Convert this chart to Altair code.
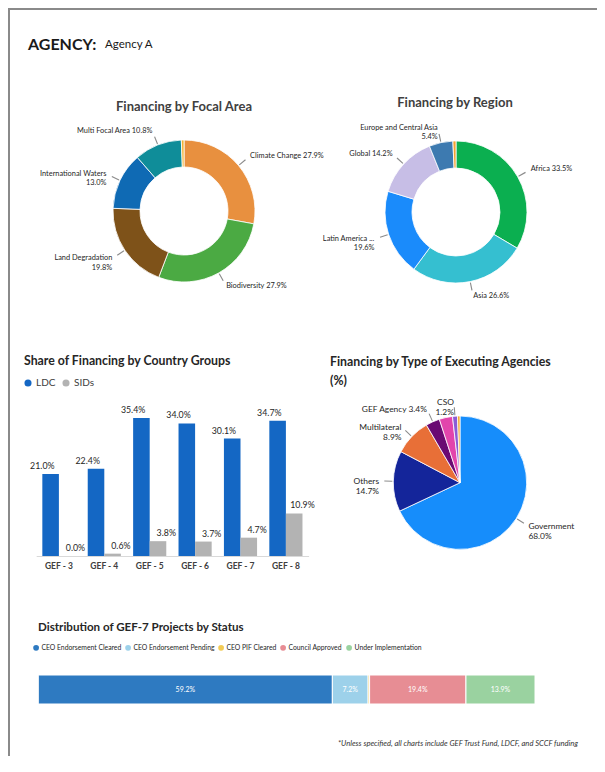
import math
import altair as alt
import pandas as pd

FONT = "Lato"
M = 8            # page margin
W, H = 589, 748  # whole drawing area
TXT = "#404040"
LAB = "#262626"


def P(v):
    """page pixel -> chart pixel"""
    return v - M


# ---------------- data ----------------
focal_names = ["Climate Change", "Biodiversity", "Land Degradation",
               "International Waters", "Multi Focal Area", "Chemicals and Waste"]
focal_values = [27.9, 27.9, 19.8, 13.0, 10.8, 0.6]
focal_colors = ["#E8903F", "#4BAA43", "#7E5219", "#0F6AB4", "#0F8D99", "#F2B233"]

region_names = ["Africa", "Asia", "Latin America and Caribbean", "Global",
                "Europe and Central Asia", "Other"]
region_values = [33.5, 26.6, 19.6, 14.2, 5.4, 0.7]
region_colors = ["#0BAF50", "#35BFD0", "#1A8BFB", "#C7BEE6", "#3D7AB0", "#F4A233"]

exec_names = ["Government", "Others", "Multilateral", "GEF Agency",
              "Private Sector", "CSO", "Foundation"]
exec_values = [68.0, 14.7, 8.9, 3.4, 3.2, 1.2, 0.6]
exec_colors = ["#168DFB", "#14259A", "#E86F37", "#6A0A73", "#E245AC", "#8B5CD6", "#F3A62A"]

gef_labels = ["GEF - 3", "GEF - 4", "GEF - 5", "GEF - 6", "GEF - 7", "GEF - 8"]
ldc_values = [21.0, 22.4, 35.4, 34.0, 30.1, 34.7]
sids_values = [0.0, 0.6, 3.8, 3.7, 4.7, 10.9]
series_names = ["LDC", "SIDs"]
series_colors = ["#1467C4", "#B3B3B3"]

status_names = ["CEO Endorsement Cleared", "CEO Endorsement Pending", "CEO PIF Cleared",
                "Council Approved", "Under Implementation"]
status_values = [59.2, 7.2, 0.3, 19.4, 13.9]
status_colors = ["#2E7AC1", "#9DD1EA", "#F2CB55", "#E78D94", "#9AD2A0"]

# ---------------- helpers ----------------
THETA = alt.Scale(domain=[0, 100], range=[0, 2 * math.pi])
dummy = pd.DataFrame({"k": [0]})


def frame(names, values):
    df = pd.DataFrame({"name": names, "value": values})
    df["end"] = df["value"].cumsum()
    df["start"] = df["end"] - df["value"]
    df["mid"] = (df["start"] + df["end"]) / 2
    return df


def pie(names, values, colors, cx, cy, r_out, r_in, r_lab, fsize, hidden=(), wrap=()):
    df = frame(names, values)

    def lab(row):
        n = row["name"]
        if len(n) > 24:
            n = n[:13] + " ..."
        sep = "\n" if row["name"] in wrap else " "
        return f"{n}{sep}{row['value']:.1f}%"

    df["label"] = df.apply(lab, axis=1)
    df["lo"] = df["mid"] - 0.12
    df["hi"] = df["mid"] + 0.12
    center = dict(x=alt.value(P(cx)), y=alt.value(P(cy)))
    arcs = alt.Chart(df).mark_arc(outerRadius=r_out, innerRadius=r_in,
                                  stroke="white", strokeWidth=0.8).encode(
        theta=alt.Theta("start:Q", scale=THETA, stack=None),
        theta2="end:Q",
        color=alt.Color("name:N", scale=alt.Scale(domain=names, range=colors), legend=None),
        **center)
    shown = df[~df["name"].isin(hidden)]
    ticks = alt.Chart(shown).mark_arc(outerRadius=r_out + 9, innerRadius=r_out + 1,
                                      color="#8c8c8c").encode(
        theta=alt.Theta("lo:Q", scale=THETA, stack=None), theta2="hi:Q", **center)

    def texts(d, align):
        return alt.Chart(d).mark_text(radius=r_lab, align=align, baseline="middle",
                                      lineBreak="\n", font=FONT, fontSize=fsize,
                                      color=LAB).encode(
            theta=alt.Theta("mid:Q", scale=THETA, stack=None), text="label:N", **center)

    return [arcs, ticks,
            texts(shown[shown["mid"] < 50], "left"),
            texts(shown[shown["mid"] >= 50], "right")]


def title(text, x, y, size, weight="bold", align="left", color=TXT, style="normal", lh=None):
    kw = dict(text=text, align=align, baseline="alphabetic", font=FONT, fontSize=size,
              fontWeight=weight, color=color, fontStyle=style, lineBreak="\n")
    if lh:
        kw["lineHeight"] = lh
    return alt.Chart(dummy).mark_text(**kw).encode(x=alt.value(P(x)), y=alt.value(P(y)))


layers = []

# page border
layers.append(alt.Chart(dummy).mark_rule(color="#8a8a8a", strokeWidth=2).encode(
    x=alt.value(1), y=alt.value(0), y2=alt.value(H)))
layers.append(alt.Chart(dummy).mark_rule(color="#8a8a8a", strokeWidth=2).encode(
    x=alt.value(0), x2=alt.value(W), y=alt.value(1)))

# titles
layers += [
    title("AGENCY:", 28, 50, 16, color="#1a1a1a"),
    title("Agency A", 105, 48.3, 11.5, weight="normal", color="#1a1a1a"),
    title("Financing by Focal Area", 184, 110.7, 13, align="center"),
    title("Financing by Region", 455, 107.3, 13, align="center"),
    title("Share of Financing by Country Groups", 24, 365, 12.3, color="#262626"),
    title("Financing by Type of Executing Agencies\n(%)", 330, 366, 12.3, color="#262626", lh=19),
    title("Distribution of GEF-7 Projects by Status", 38, 630.7, 11.6, color="#262626"),
    title("*Unless specified, all charts include GEF Trust Fund, LDCF, and SCCF funding",
          578, 746, 7.6, weight="normal", align="right", color="#333333", style="italic"),
]

# pies
layers += pie(focal_names, focal_values, focal_colors, 184, 211, 71, 44, 86, 7.4,
              hidden=("Chemicals and Waste",),
              wrap=("Land Degradation", "International Waters"))
layers += pie(region_names, region_values, region_colors, 456, 212, 71, 44, 86, 7.4,
              hidden=("Other",),
              wrap=("Latin America and Caribbean", "Europe and Central Asia"))
layers += pie(exec_names, exec_values, exec_colors, 460, 482.7, 66.7, 0, 81, 8.4,
              hidden=("Private Sector", "Foundation"),
              wrap=("Government", "Others", "Multilateral", "CSO"))

# grouped bars: country groups
cg = pd.DataFrame({"group": gef_labels * 2,
                   "series": ["LDC"] * 6 + ["SIDs"] * 6,
                   "value": ldc_values + sids_values})
cg["label"] = cg["value"].map(lambda v: f"{v:.1f}%")
xs = alt.Scale(domain=gef_labels, range=[P(36.2), P(308.6)], paddingInner=0.27, paddingOuter=0.135)
xo = alt.Scale(domain=series_names, paddingInner=0, paddingOuter=0)
ys = alt.Scale(domain=[0, 40], range=[P(556), P(400)])

bars = alt.Chart(cg).mark_bar().encode(
    x=alt.X("group:N", scale=xs,
            axis=alt.Axis(title=None, orient="bottom", offset=P(556) - H, domainColor="#d9d9d9",
                          ticks=False, labelFont=FONT, labelFontSize=8.5, labelFontWeight="bold",
                          labelColor=TXT, labelPadding=5, labelAngle=0)),
    xOffset=alt.XOffset("series:N", scale=xo),
    y=alt.Y("value:Q", scale=ys, axis=None),
    color=alt.Color("series:N", scale=alt.Scale(domain=series_names, range=series_colors),
                    legend=alt.Legend(title=None, orient="none", legendX=P(23), legendY=P(378),
                                      direction="horizontal", symbolType="circle", symbolSize=50,
                                      symbolStrokeWidth=0, labelFont=FONT, labelFontSize=10,
                                      labelColor=TXT, columnPadding=5, labelOffset=3, padding=0)),
)
bar_text = alt.Chart(cg).mark_text(dy=-5, baseline="alphabetic", font=FONT, fontSize=8.8,
                                   color=LAB).encode(
    x=alt.X("group:N", scale=xs, axis=None),
    xOffset=alt.XOffset("series:N", scale=xo),
    y=alt.Y("value:Q", scale=ys, axis=None),
    text="label:N",
)
layers += [bars, bar_text]

# stacked status bar
st = frame(status_names, status_values)
st["row"] = "GEF-7"
st["label"] = st["value"].map(lambda v: f"{v:.1f}%")
xs2 = alt.Scale(domain=[0, 100], range=[P(38.3), P(535)])
ys2 = alt.Scale(domain=["GEF-7"], range=[P(675), P(704)], paddingInner=0, paddingOuter=0)
sbar = alt.Chart(st).mark_bar(stroke="white", strokeWidth=1).encode(
    x=alt.X("start:Q", scale=xs2, axis=None),
    x2="end:Q",
    y=alt.Y("row:N", scale=ys2, axis=None),
    color=alt.Color("name:N", scale=alt.Scale(domain=status_names, range=status_colors),
                    legend=alt.Legend(title=None, orient="none", legendX=P(32.7), legendY=P(644),
                                      direction="horizontal", symbolType="circle", symbolSize=33,
                                      symbolStrokeWidth=0, labelFont=FONT, labelFontSize=6.8,
                                      labelColor=LAB, columnPadding=3, labelOffset=2, padding=0)),
)
stext = alt.Chart(st[st["value"] >= 1]).mark_text(color="white", font=FONT, fontSize=7,
                                                  baseline="middle").encode(
    x=alt.X("mid:Q", scale=xs2, axis=None),
    y=alt.Y("row:N", scale=ys2, axis=None),
    text="label:N",
)
layers += [sbar, stext]

chart = (
    alt.layer(*layers)
    .properties(width=W, height=H, padding=0, autosize=alt.AutoSizeParams(type="none"))
    .resolve_scale(x="independent", y="independent", color="independent",
                   theta="independent", xOffset="independent")
    .resolve_legend(color="independent")
    .configure_view(stroke=None)
)

chart.save("out.html", embed_options={"renderer": "svg", "actions": False})
